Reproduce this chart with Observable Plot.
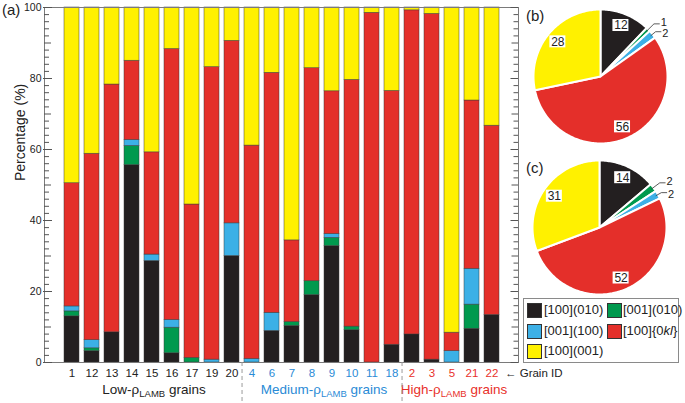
<!DOCTYPE html>
<html>
<head>
<meta charset="utf-8">
<script src="https://cdn.jsdelivr.net/npm/d3@7"></script>
<script src="https://cdn.jsdelivr.net/npm/@observablehq/plot@0.6"></script>
<style>
  body { margin: 0; background: #fff; font-family: "Liberation Sans", Arial, sans-serif; }
  #wrap { position: relative; width: 685px; height: 403px; overflow: hidden; background: #fff; }
  #wrap svg { position: absolute; overflow: visible; }
  .panel { position: absolute; font-size: 15px; color: #222; line-height: 15px; }
  #legend { position: absolute; left: 523px; top: 298px; width: 154px; height: 63px; border: 1px solid #8a8a8a; background: #fff; }
  .sw { position: absolute; width: 13px; height: 13px; border: 0.6px solid #333; }
  .lt { position: absolute; font-size: 13px; line-height: 14px; color: #222; white-space: nowrap; }
</style>
</head>
<body>
<div id="wrap"></div>
<script>
// ---------------- data ----------------
const lowGrains = ["1", "12", "13", "14", "15", "16", "17", "19", "20"];
const mediumGrains = ["4", "6", "7", "8", "9", "10", "11", "18"];
const highGrains = ["2", "3", "5", "21", "22"];
const grains = [...lowGrains, ...mediumGrains, ...highGrains];

const groupLabels = ["Low-ρLAMB grains", "Medium-ρLAMB grains", "High-ρLAMB grains"];
const groupColors = ["#222222", "#2a8bd6", "#e8302a"];

const compNames = ["[100](010)", "[001](010)", "[001](100)", "[100]{0kl}", "[100](001)"];
const compColors = ["#231f20", "#00994e", "#3cb0e6", "#e42f2a", "#fff100"];

// percentages per grain (same order as grains)
const blackVals  = [13.0, 3.2, 8.5, 55.6, 28.6, 2.6, 0, 0, 30.0, 0, 8.9, 10.3, 19.0, 32.8, 9.1, 0, 5.0, 7.9, 0.8, 0, 9.5, 13.4];
const greenVals  = [1.4, 0.8, 0, 5.4, 0, 7.2, 1.3, 0, 0, 0, 0, 1.1, 3.9, 2.3, 1.0, 0, 0, 0, 0, 0, 6.8, 0];
const blueVals   = [1.4, 2.3, 0, 1.7, 1.8, 2.2, 0, 0.8, 9.2, 1.0, 5.1, 0, 0, 1.1, 0, 0, 0, 0, 0, 3.2, 10.1, 0];
const redVals    = [34.7, 52.5, 69.8, 22.3, 28.8, 76.3, 43.2, 82.4, 51.4, 60.1, 67.6, 23.0, 60.0, 40.2, 69.5, 98.5, 71.5, 91.3, 97.4, 5.2, 47.4, 53.3];
const yellowVals = [49.5, 41.2, 21.7, 15.0, 40.8, 11.7, 55.5, 16.8, 9.4, 38.9, 18.4, 65.6, 17.1, 23.6, 20.4, 1.5, 23.5, 0.8, 1.8, 91.6, 26.2, 33.3];

const pieB = [12, 1, 2, 56, 28];
const pieC = [14, 2, 2, 52, 31];

const yTickLabels = [0, 20, 40, 60, 80, 100];

// ---------------- main bar chart ----------------
const seriesVals = [blackVals, greenVals, blueVals, redVals, yellowVals];
const rows = [];
seriesVals.forEach((vals, si) => grains.forEach((g, i) => {
  if (vals[i] > 0) rows.push({grain: g, comp: compNames[si], value: vals[i]});
}));

const W = 685, H = 403, mL = 44, mR = 167, mT = 7, mB = 41;
const innerW = W - mL - mR;
const step = innerW / (grains.length - 0.255 + 2 * 0.93);

const minorTicks = d3.range(0, 101, 2).filter(d => d % 10 !== 0);
const midTicks = d3.range(10, 100, 20);
const majorTicks = yTickLabels;

const groups = [lowGrains, mediumGrains, highGrains];
const textMarks = groups.map((gr, k) => Plot.text(gr, {
  x: d => d, frameAnchor: "bottom", dy: 14, text: d => d, fill: groupColors[k], fontSize: 11.5
}));
const groupLabelMarks = groups.map((gr, k) => {
  const mid = gr[Math.floor((gr.length - 1) / 2)];
  const shift = gr.length % 2 === 0 ? step / 2 : 0;
  return Plot.text([groupLabels[k]], {
    x: () => mid, frameAnchor: "bottom", dy: 31, dx: shift + 2, text: d => d,
    fill: groupColors[k], fontSize: 13.5
  });
});
const separators = [lowGrains[lowGrains.length - 1], mediumGrains[mediumGrains.length - 1]];

const main = Plot.plot({
  width: W, height: H,
  marginLeft: mL, marginRight: mR, marginTop: mT, marginBottom: mB,
  style: {fontFamily: "'Liberation Sans', Arial, sans-serif", background: "transparent", color: "#222"},
  x: {domain: grains, paddingInner: 0.255, paddingOuter: 0.93, axis: null},
  y: {domain: [0, 100], axis: null},
  color: {domain: compNames, range: compColors},
  marks: [
    Plot.barY(rows, {x: "grain", y: "value", fill: "comp", order: compNames, stroke: "#3a3a3a", strokeWidth: 0.6, strokeOpacity: 0.8}),
    Plot.frame({stroke: "#7a7a7a", strokeWidth: 1}),
    // left ticks (inward)
    Plot.ruleY(minorTicks, {y: d => d, insetRight: innerW - 5, stroke: "#555"}),
    Plot.ruleY(midTicks, {y: d => d, insetRight: innerW - 7, stroke: "#555"}),
    Plot.ruleY(majorTicks, {y: d => d, insetLeft: -1, insetRight: innerW - 8, stroke: "#555"}),
    // right ticks (inward)
    Plot.ruleY(minorTicks, {y: d => d, insetLeft: innerW - 4.5, stroke: "#555"}),
    Plot.ruleY(midTicks, {y: d => d, insetLeft: innerW - 6.5, stroke: "#555"}),
    Plot.ruleY(majorTicks, {y: d => d, insetLeft: innerW - 7.5, stroke: "#555"}),
    // y labels
    Plot.text(yTickLabels, {y: d => d, text: d => String(d), frameAnchor: "left", textAnchor: "end", dx: -3, fontSize: 10.5, fill: "#222"}),
    Plot.text(["Percentage (%)"], {frameAnchor: "left", rotate: -90, dx: -24, dy: -4, text: d => d, fontSize: 14, fill: "#222"}),
    // x labels
    ...textMarks,
    ...groupLabelMarks,
    Plot.text(["← Grain ID"], {x: () => grains[grains.length - 1], frameAnchor: "bottom", dy: 14, dx: 13, textAnchor: "start", text: d => d, fontSize: 11.5, fill: "#222"}),
    Plot.ruleX(separators, {x: d => d, dx: step / 2, y1: 0, y2: -11.6, stroke: "#9a9a9a", strokeDasharray: "4,3"})
  ]
});

// subscript LAMB
d3.select(main).selectAll("text").each(function() {
  const t = this.textContent;
  if (t.includes("ρLAMB")) {
    const [pre, post] = t.split("LAMB");
    const sel = d3.select(this);
    sel.text("");
    sel.append("tspan").text(pre);
    sel.append("tspan").attr("font-size", "9.5px").attr("dy", "3").text("LAMB");
    sel.append("tspan").attr("dy", "-3").text(post);
  }
});

const wrap = document.getElementById("wrap");
main.style.left = "0px"; main.style.top = "0px";
wrap.appendChild(main);

// ---------------- pies ----------------
function pieChart(values, cx, cy) {
  const arcs = d3.pie().sort(null)(values);
  const pts = [];
  arcs.forEach((a, i) => {
    const n = Math.max(3, Math.ceil((a.endAngle - a.startAngle) / 0.02));
    pts.push({k: compNames[i], x: 0, y: 0});
    for (let j = 0; j <= n; j++) {
      const t = a.startAngle + (a.endAngle - a.startAngle) * j / n;
      pts.push({k: compNames[i], x: Math.sin(t), y: Math.cos(t)});
    }
    pts.push({k: compNames[i], x: 0, y: 0});
  });
  const big = [], leaders = [], small = [];
  let s = 0;
  arcs.forEach((a, i) => {
    const m = (a.startAngle + a.endAngle) / 2;
    if (values[i] >= 5) {
      big.push({x: 0.82 * Math.sin(m), y: 0.82 * Math.cos(m), t: String(values[i])});
    } else {
      const er = s === 0 ? 1.12 : 1.06;
      const ex = er * Math.sin(m), ey = er * Math.cos(m);
      leaders.push({k: i, x: 0.97 * Math.sin(m), y: 0.97 * Math.cos(m)});
      leaders.push({k: i, x: ex, y: ey});
      leaders.push({k: i, x: ex + 0.08, y: ey});
      small.push({x: ex + 0.1, y: ey + (s === 0 ? 0.02 : -0.02), t: String(values[i])});
      s++;
    }
  });
  const p = Plot.plot({
    width: 165, height: 150, marginLeft: 8, marginRight: 23, marginTop: 8, marginBottom: 8,
    style: {fontFamily: "'Liberation Sans', Arial, sans-serif", background: "transparent"},
    x: {domain: [-1, 1], axis: null},
    y: {domain: [-1, 1], axis: null},
    color: {domain: compNames, range: compColors},
    marks: [
      Plot.line(pts, {x: "x", y: "y", z: "k", fill: "k", stroke: "white", strokeWidth: 2, strokeLinejoin: "round"}),
      Plot.line(leaders, {x: "x", y: "y", z: "k", stroke: "#333", strokeWidth: 0.8}),
      Plot.rect(big, {x1: "x", x2: "x", y1: "y", y2: "y", insetLeft: -8, insetRight: -8, insetTop: -6, insetBottom: -6, fill: "white"}),
      Plot.text(big, {x: "x", y: "y", text: "t", fontSize: 12, fill: "#222"}),
      Plot.text(small, {x: "x", y: "y", text: "t", textAnchor: "start", fontSize: 11, fill: "#222"})
    ]
  });
  p.style.left = (cx - 75) + "px";
  p.style.top = (cy - 75) + "px";
  wrap.appendChild(p);
}
pieChart(pieB, 600, 76);
pieChart(pieC, 599, 227);

// panel labels
[["(a)", 2, 2], ["(b)", 526, 8], ["(c)", 526, 160]].forEach(([t, l, tp]) => {
  const d = document.createElement("div");
  d.className = "panel"; d.textContent = t;
  d.style.left = l + "px"; d.style.top = tp + "px";
  wrap.appendChild(d);
});

// legend
const legend = document.createElement("div");
legend.id = "legend";
compNames.forEach((name, i) => {
  const col = i % 2, row = Math.floor(i / 2);
  const sw = document.createElement("div");
  sw.className = "sw";
  sw.style.background = compColors[i];
  sw.style.left = (col === 0 ? 3 : 83) + "px";
  sw.style.top = (4 + row * 20.5) + "px";
  legend.appendChild(sw);
  const tx = document.createElement("div");
  tx.className = "lt";
  tx.style.left = (col === 0 ? 20 : 99) + "px";
  tx.style.top = (4 + row * 20.5) + "px";
  if (name.includes("{0kl}")) {
    tx.innerHTML = "[100]{0<i>kl</i>}";
  } else {
    tx.textContent = name;
  }
  legend.appendChild(tx);
});
wrap.appendChild(legend);
</script>
</body>
</html>
